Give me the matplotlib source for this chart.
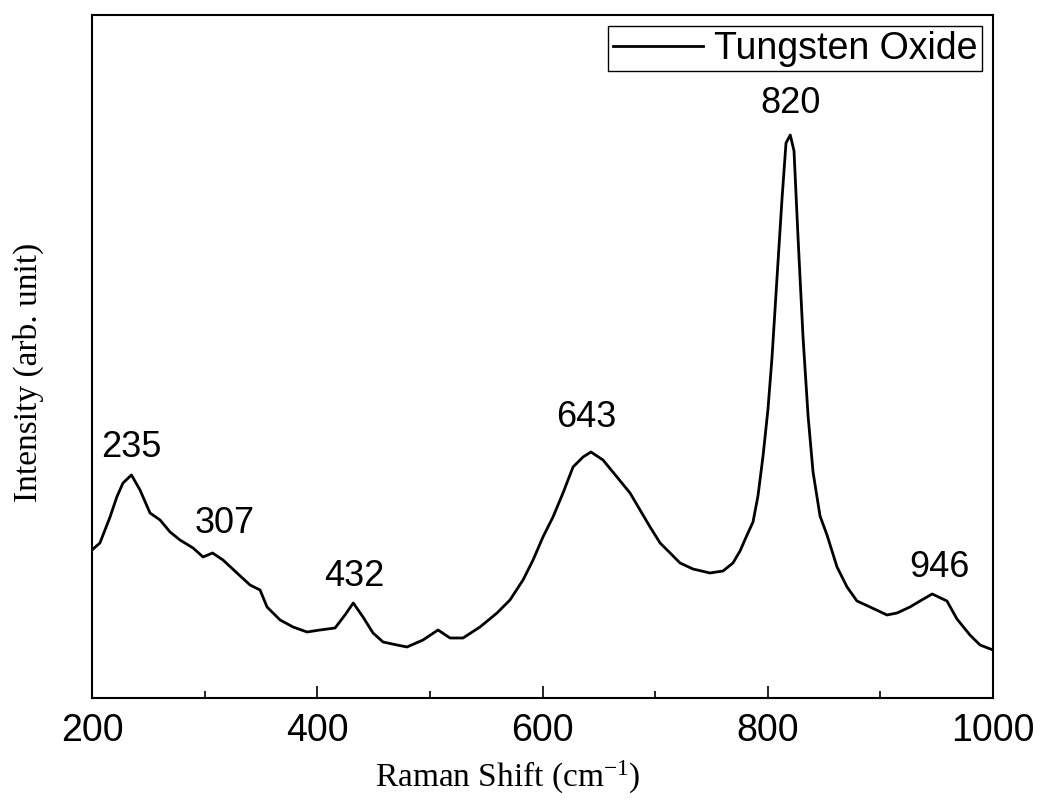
import matplotlib
matplotlib.use('Agg')
import matplotlib.pyplot as plt
import numpy as np

plt.rcParams['font.family'] = ['Liberation Sans', 'DejaVu Sans']
plt.rcParams['mathtext.fontset'] = 'custom'
plt.rcParams['mathtext.rm'] = 'Liberation Serif'
plt.rcParams['mathtext.it'] = 'Liberation Serif:italic'

# Raman spectrum (arb. intensity)
shift = [200, 207, 216, 222, 227.5, 235, 242.6, 251.5, 260.4, 269.3, 278.1, 289.7,
         298.6, 307, 316.3, 328.7, 340.3, 349.2, 355.4, 367, 378.5, 390.9, 402.4,
         415.8, 424.6, 432, 440.6, 449.5, 458.4, 470.8, 479.7, 493.9, 507.2, 517.9,
         529.4, 544.5, 559.6, 571.1, 582.7, 591.6, 600.4, 609.3, 618.2, 627.1, 636,
         643, 653.7, 666.1, 677.7, 686.6, 695.5, 704.4, 713.3, 722.1, 733.6, 748.7,
         760.3, 769.1, 775.4, 781.6, 786.9, 791.3, 795.8, 800.2, 803.8, 808.2, 812.7,
         816.2, 820, 823.3, 826.9, 831.3, 835.8, 840.2, 846.4, 852.6, 861.5, 870.4,
         879.2, 890.8, 905.9, 914.8, 926.3, 935.2, 946, 959.1, 968, 979.5, 988.5, 1000]
intensity = [148, 155, 181, 201, 215, 223, 208, 185, 178, 166, 158, 150,
             141, 145, 138, 125, 113, 108, 91, 78, 71, 66, 68,
             70, 83, 95, 81, 65, 56, 53, 51, 58, 68, 60,
             60, 71, 85, 98, 118, 138, 161, 181, 205, 231, 241,
             246, 238, 221, 205, 188, 171, 155, 145, 135, 129, 125,
             127, 135, 147, 163, 176, 202, 242, 289, 341, 420, 500,
             555, 563, 547, 460, 361, 282, 226, 182, 163, 131, 111,
             97, 91, 83, 85, 91, 97, 104, 97, 79, 63, 53, 48]

peaks = [235, 307, 432, 643, 820, 946]
# label offsets above each peak (pixels)
label_offsets = [(0, 27), (12, 29), (1, 26), (-5, 34), (0, 31), (7, 26)]

fig = plt.figure(figsize=(10.41, 8.01), dpi=100)
ax = fig.add_axes([0.0884, 0.1286, 0.8655, 0.8527])

ax.plot(shift, intensity, color='black', lw=2.0, label='Tungsten Oxide')

for p, (dx, dy) in zip(peaks, label_offsets):
    y = np.interp(p, shift, intensity)
    ax.annotate(str(p), xy=(p, y), xytext=(dx, dy), textcoords='offset pixels',
                ha='center', va='center', fontsize=26)

ax.set_xlim(200, 1000)
ax.set_ylim(0, 683)
ax.set_xticks([200, 400, 600, 800, 1000])
ax.set_xticks([300, 500, 700, 900], minor=True)
ax.set_yticks([])
ax.tick_params(axis='x', which='major', direction='in', length=9, width=1.2,
               labelsize=27, pad=11)
ax.tick_params(axis='x', which='minor', direction='in', length=5, width=1.2)
for s in ax.spines.values():
    s.set_linewidth(1.5)

ax.set_xlabel('Raman Shift (cm$^{-1}$)', family='Liberation Serif', fontsize=24)
ax.set_ylabel('Intensity (arb. unit)', family='Liberation Serif', fontsize=24)
ax.xaxis.set_label_coords(0.462, -0.117)
ax.yaxis.set_label_coords(-0.071, 0.477)
ax.xaxis.label.set_va('center')
ax.yaxis.label.set_va('center')

leg = ax.legend(loc='upper right', fontsize=27, frameon=True, fancybox=False,
                edgecolor='black', framealpha=1, borderpad=0.12, handlelength=2.4,
                handletextpad=0.3, borderaxespad=0.3)
leg.get_frame().set_linewidth(1.0)

fig.savefig('out.png', dpi=100)
